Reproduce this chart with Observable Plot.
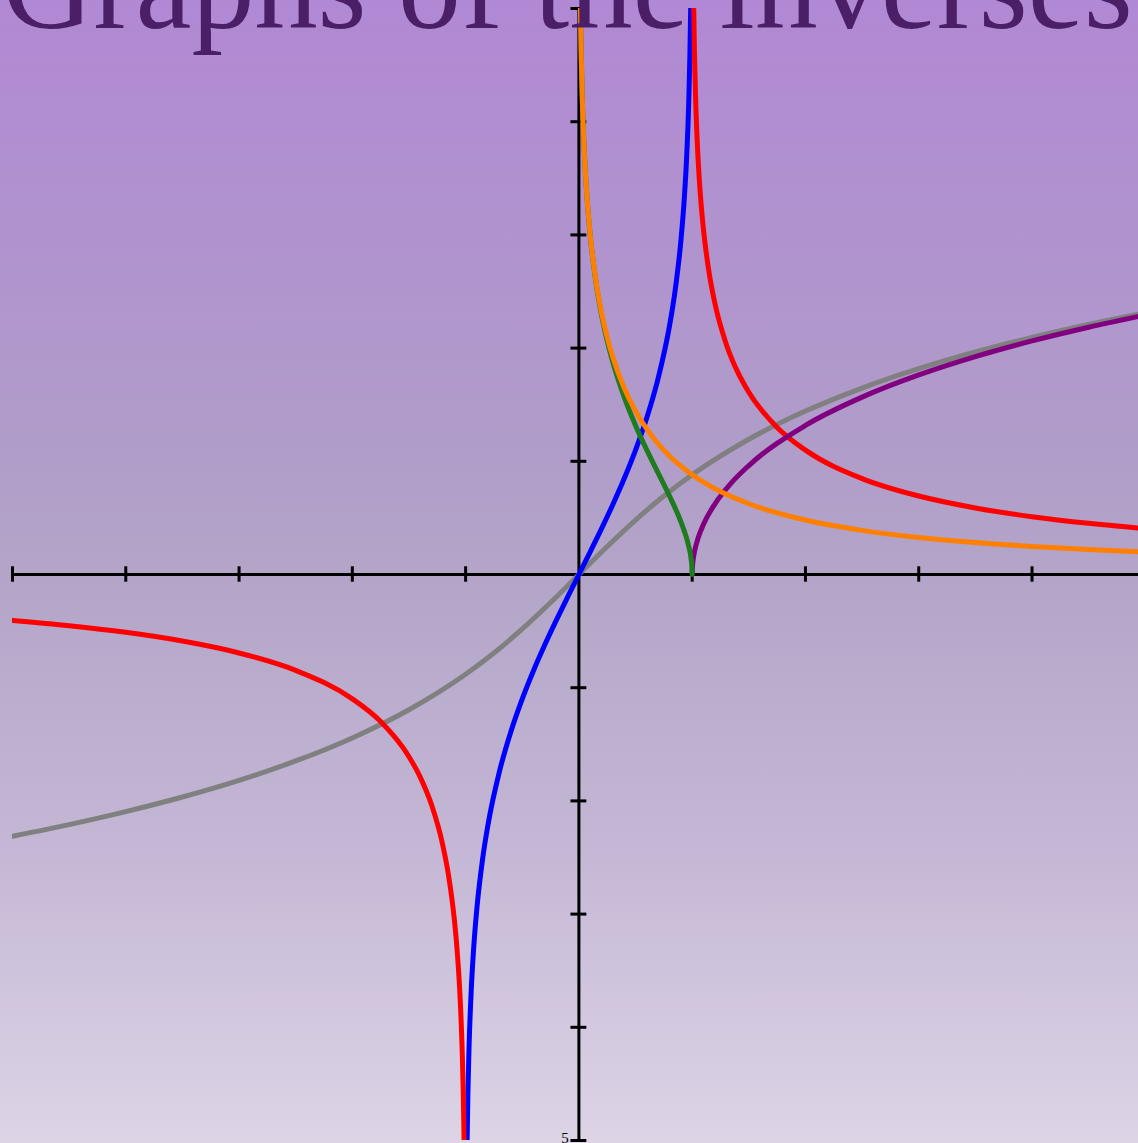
<!DOCTYPE html>
<html>
<head>
<meta charset="utf-8">
<script src="https://cdn.jsdelivr.net/npm/d3@7"></script>
<script src="https://cdn.jsdelivr.net/npm/@observablehq/plot@0.6"></script>
<style>
  html, body { margin: 0; padding: 0; }
  body { width: 1138px; height: 1143px; overflow: hidden; }
  #chart { width: 1138px; height: 1143px;
    background: linear-gradient(to bottom, #b188d4 0%, #b09dc9 40%, #b4a6c8 52%, #c5b8d6 75%, #ddd4e6 100%); }
  #chart svg { display: block; background: transparent; }
</style>
</head>
<body>
<div id="chart"></div>
<script>
// Title
const titleText = "Graphs of the inverses";
const yLabel = [{x: 0, y: -5, text: "5"}];

// Tick values
const xTicks = [-5, -4, -3, -2, -1, 1, 2, 3, 4];
const yTicks = [-5, -4, -3, -2, -1, 1, 2, 3, 4, 5];

// arsinh (gray)
const asinhX = [-5, -4.5, -4, -3.5, -3, -2.5, -2, -1.5, -1, -0.75, -0.5, -0.25, 0, 0.25, 0.5, 0.75, 1, 1.5, 2, 2.5, 3, 3.5, 4, 4.5, 5];
const asinhY = [-2.3124, -2.2093, -2.0947, -1.9657, -1.8184, -1.6472, -1.4436, -1.1948, -0.8814, -0.6931, -0.4812, -0.2475, 0, 0.2475, 0.4812, 0.6931, 0.8814, 1.1948, 1.4436, 1.6472, 1.8184, 1.9657, 2.0947, 2.2093, 2.3124];

// blue (through origin, asymptotes at ±1)
const blueX = [-0.9866, -0.98, -0.97, -0.95, -0.93, -0.9, -0.85, -0.8, -0.7, -0.6, -0.5, -0.4, -0.3, -0.2, -0.1, 0, 0.1, 0.2, 0.3, 0.4, 0.5, 0.6, 0.7, 0.8, 0.85, 0.9, 0.93, 0.95, 0.97, 0.98, 0.9866];
const blueY = [-4.999, -4.5951, -4.1846, -3.6636, -3.3168, -2.9444, -2.5123, -2.1972, -1.7346, -1.3863, -1.0986, -0.8473, -0.619, -0.4055, -0.2007, 0, 0.2007, 0.4055, 0.619, 0.8473, 1.0986, 1.3863, 1.7346, 2.1972, 2.5123, 2.9444, 3.3168, 3.6636, 4.1846, 4.5951, 4.999];

// red, right branch (x > 1)
const redRX = [1.0136, 1.02, 1.03, 1.05, 1.075, 1.1, 1.15, 1.2, 1.3, 1.4, 1.5, 1.75, 2, 2.5, 3, 3.5, 4, 4.5, 5];
const redRY = [5.0, 4.6151, 4.2146, 3.7136, 3.3202, 3.0445, 2.6626, 2.3979, 2.0369, 1.7918, 1.6094, 1.2993, 1.0986, 0.8473, 0.6931, 0.5878, 0.5108, 0.452, 0.4055];
// red, left branch (x < -1)
const redLX = [-5, -4.5, -4, -3.5, -3, -2.5, -2, -1.75, -1.5, -1.4, -1.3, -1.2, -1.15, -1.1, -1.075, -1.05, -1.03, -1.02, -1.0136];
const redLY = [-0.4055, -0.452, -0.5108, -0.5878, -0.6931, -0.8473, -1.0986, -1.2993, -1.6094, -1.7918, -2.0369, -2.3979, -2.6626, -3.0445, -3.3202, -3.7136, -4.2146, -4.6151, -5.0];

// arcosh (purple)
const acoshX = [1, 1.001, 1.003, 1.01, 1.025, 1.05, 1.1, 1.2, 1.35, 1.5, 2, 2.5, 3, 3.5, 4, 4.5, 5];
const acoshY = [0, 0.0447, 0.0775, 0.1413, 0.2231, 0.315, 0.4436, 0.6224, 0.814, 0.9624, 1.317, 1.5668, 1.7627, 1.9248, 2.0634, 2.1846, 2.2924];

// arsech (green)
const asechX = [0.0135, 0.02, 0.03, 0.05, 0.07, 0.1, 0.15, 0.2, 0.25, 0.3, 0.4, 0.5, 0.6, 0.7, 0.8, 0.9, 0.95, 0.97, 0.99, 0.999, 1];
const asechY = [4.998, 4.6051, 4.1995, 3.6883, 3.3512, 2.9932, 2.5847, 2.2924, 2.0634, 1.8738, 1.5668, 1.317, 1.0986, 0.8955, 0.6931, 0.4671, 0.323, 0.248, 0.142, 0.0447, 0];

// arcsch (orange)
const acschX = [0.0135, 0.02, 0.03, 0.05, 0.07, 0.1, 0.15, 0.2, 0.25, 0.3, 0.4, 0.5, 0.6, 0.7, 0.8, 1, 1.25, 1.5, 2, 2.5, 3, 3.5, 4, 4.5, 5];
const acschY = [4.998, 4.6053, 4.2, 3.6895, 3.3536, 2.9982, 2.5958, 2.3124, 2.0947, 1.9189, 1.6472, 1.4436, 1.2838, 1.1545, 1.0476, 0.8814, 0.7327, 0.6251, 0.4812, 0.39, 0.3275, 0.2819, 0.2475, 0.2204, 0.1987];

const zip = (xs, ys) => xs.map((x, i) => ({x, y: ys[i]}));

const sw = 5;
const lineOpts = (stroke) => ({x: "x", y: "y", stroke, strokeWidth: sw, curve: "monotone-x", clip: true});

const chart = Plot.plot({
  width: 1138,
  height: 1143,
  marginLeft: 12,
  marginRight: 0,
  marginTop: 8,
  marginBottom: 3,
  x: {domain: [-5, 4.94], axis: null},
  y: {domain: [-5, 5], axis: null},
  style: {background: "transparent", overflow: "visible"},
  marks: [
    // axes
    Plot.ruleY([0], {x1: -5, x2: 4.94, stroke: "black", strokeWidth: 3}),
    Plot.ruleX([0], {y1: -5, y2: 5, stroke: "black", strokeWidth: 3}),
    Plot.ruleX(xTicks, {x: d => d, y1: -0.068, y2: 0.068, stroke: "black", strokeWidth: 3}),
    Plot.ruleY(yTicks, {y: d => d, x1: -0.07, x2: 0.07, stroke: "black", strokeWidth: 3}),
    Plot.text(yLabel, {x: "x", y: "y", text: "text", dx: -14, dy: -8, lineAnchor: "top", fontSize: 15, fontFamily: "Liberation Serif", fill: "black"}),
    // curves
    Plot.line(zip(asinhX, asinhY), lineOpts("#808080")),
    Plot.line(zip(blueX, blueY), lineOpts("#0000ff")),
    Plot.line(zip(redRX, redRY), lineOpts("#ff0000")),
    Plot.line(zip(redLX, redLY), lineOpts("#ff0000")),
    Plot.line(zip(acoshX, acoshY), lineOpts("#800080")),
    Plot.line(zip(asechX, asechY), lineOpts("#1e7b1e")),
    Plot.line(zip(acschX, acschY), lineOpts("#ff8000")),
    // title
    Plot.text([titleText], {frameAnchor: "top-left", dx: -10, dy: 19, lineAnchor: "bottom", textAnchor: "start", fontSize: 126, fontFamily: "Liberation Serif", fill: "#4a1f68"})
  ]
});
document.getElementById("chart").appendChild(chart);
</script>
</body>
</html>
